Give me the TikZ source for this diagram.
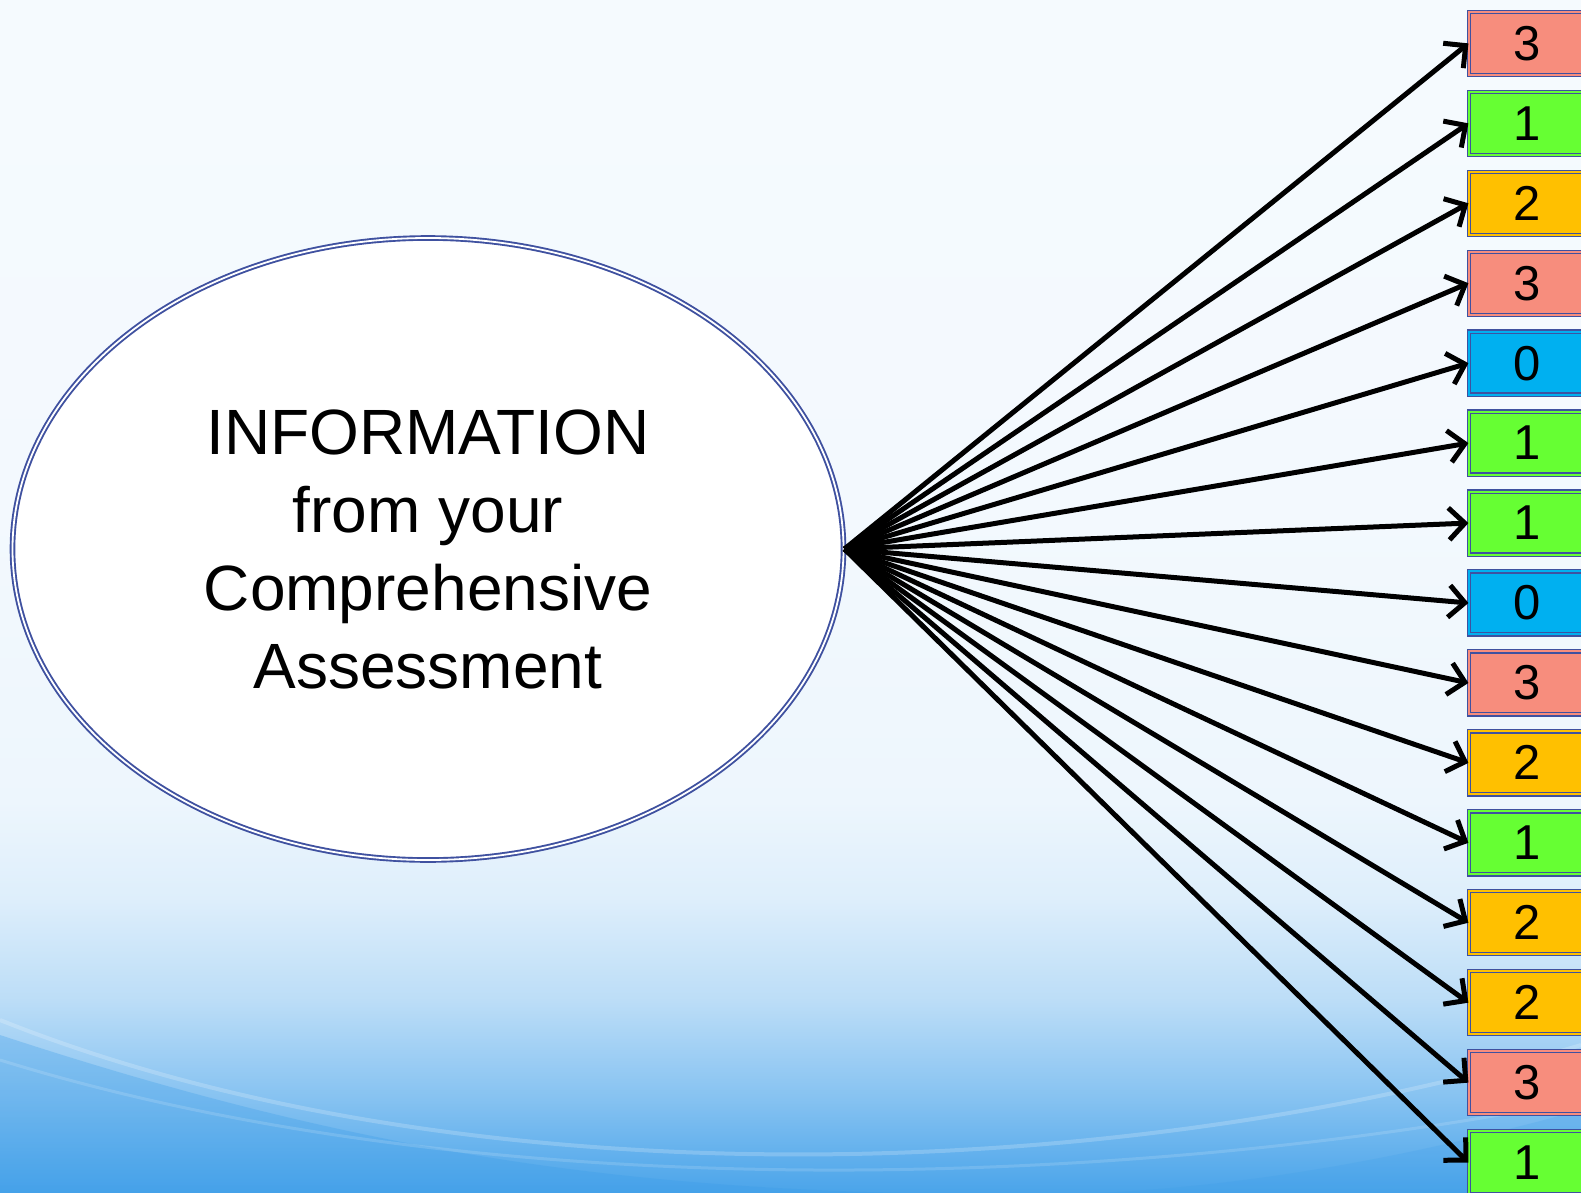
\documentclass[tikz,border=0pt]{standalone}
\usepackage{fontspec}
\setmainfont{Liberation Sans}
\usetikzlibrary{arrows.meta,shapes.geometric}

\definecolor{rim}{HTML}{3F51A0}
\definecolor{cred}{HTML}{F78D7D}
\definecolor{cgreen}{HTML}{66FF33}
\definecolor{corange}{HTML}{FFC000}
\definecolor{cblue}{HTML}{00B0F0}
\definecolor{deepsky}{HTML}{3A9CE8}

% sky gradient; the picture spans 25bp (bottom) to 75bp (top)
\pgfdeclareverticalshading{sky}{100bp}{
  color(0bp)=(deepsky!92!white);
  color(25bp)=(deepsky!92!white);
  color(28.9bp)=(deepsky!62!white);
  color(33.1bp)=(deepsky!34!white);
  color(37.3bp)=(deepsky!17!white);
  color(41.5bp)=(deepsky!9!white);
  color(54bp)=(deepsky!6!white);
  color(75bp)=(deepsky!5!white);
  color(100bp)=(deepsky!5!white)}

\tikzset{
  scorebox/.style={draw=rim, line width=1.2pt, double distance=2pt,
    rectangle, minimum width=116pt, minimum height=63pt, inner sep=0pt,
    font=\fontsize{49}{49}\selectfont},
  bubble/.style={ellipse, draw=rim, line width=1.9pt, double=white,
    double distance=1.8pt, fill=white, minimum width=831pt,
    minimum height=622pt, inner sep=0pt, align=center,
    font=\fontsize{64}{78}\selectfont},
  link/.style={line width=5pt, black,
    -{Straight Barb[length=16pt,width=32pt,line width=5pt]}}
}

\begin{document}
\begin{tikzpicture}[x=1pt,y=-1pt]
  \useasboundingbox (0,0) rectangle (1581,1193);

  % sky background
  \shade[shading=sky] (0,0) rectangle (1581,1193);
  % deeper blue below the sweep on the left and right
  \fill[deepsky, opacity=0.3] (0,1035) .. controls (350,1150) and (600,1185) .. (900,1193)
    -- (0,1193) -- cycle;
  \fill[deepsky, opacity=0.2] (1581,1110) .. controls (1400,1160) and (1250,1185) .. (1100,1193)
    -- (1581,1193) -- cycle;
  % faint light sweeps
  \draw[white, opacity=0.2, line width=4pt] (0,1020) .. controls (450,1200) and (1100,1190) .. (1581,1045);
  \draw[white, opacity=0.14, line width=3pt] (0,1060) .. controls (500,1215) and (1150,1185) .. (1581,1100);

  % central bubble
  \node[bubble] (info) at (428,549) {INFORMATION\\from your\\Comprehensive\\Assessment};

  % score boxes
  \foreach \v/\c [count=\i from 0] in {3/cred,1/cgreen,2/corange,3/cred,0/cblue,1/cgreen,1/cgreen,0/cblue,3/cred,2/corange,1/cgreen,2/corange,2/corange,3/cred,1/cgreen}{
    \node[scorebox, fill=\c, double=\c] (b\i) at (1527,{43.4+79.94*\i}) {\v};
  }

  % arrows from the bubble to every box
  \foreach \i in {0,...,14}{
    \draw[link] (info.east) -- (b\i.west);
  }
\end{tikzpicture}
\end{document}
